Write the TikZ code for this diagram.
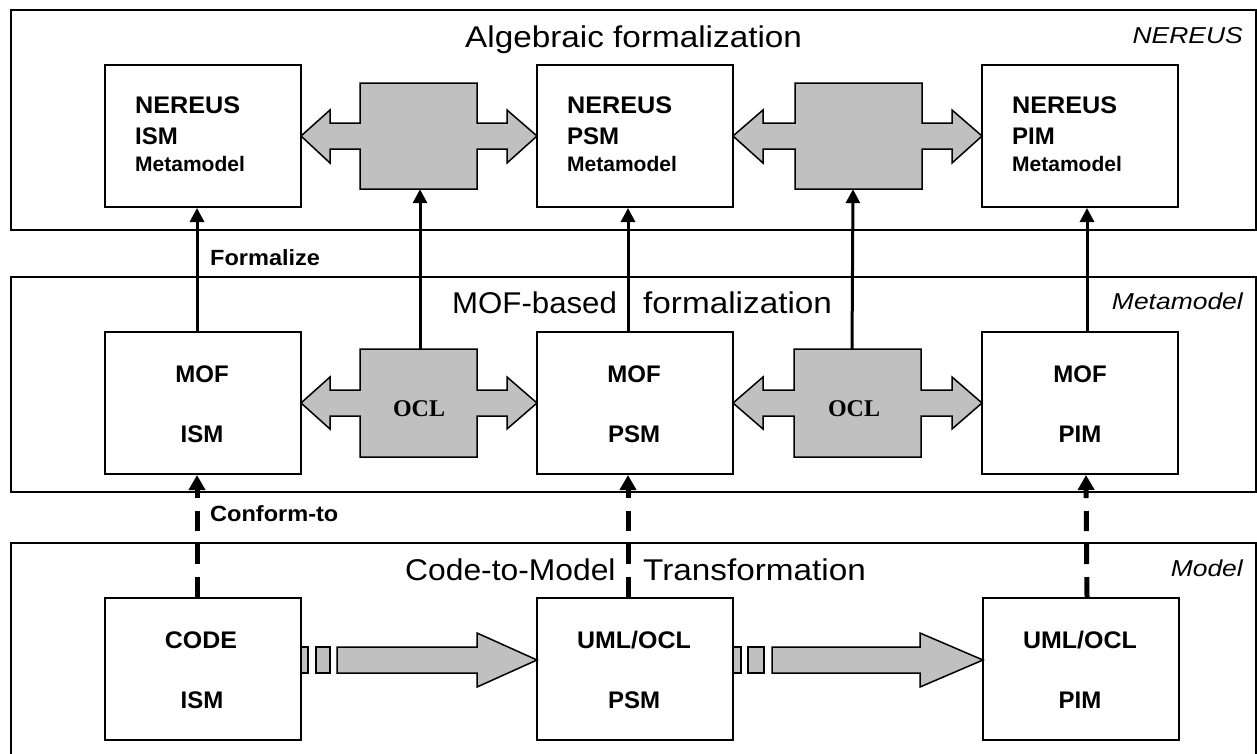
\documentclass[tikz,border=0pt]{standalone}
\usepackage{fontspec}
\setmainfont{Liberation Sans}
\newfontfamily\oclfont{Liberation Serif}
\usetikzlibrary{arrows.meta}
\definecolor{shade}{HTML}{C0C0C0}
\newcommand\ttlf{\fontsize{30}{34}\selectfont}
\newcommand\itlf{\fontsize{23}{26}\selectfont\itshape}
\newcommand\bxf{\fontsize{24}{28}\selectfont\bfseries}
\newcommand\mmf{\fontsize{21}{24}\selectfont\bfseries}
\newcommand\lblf{\fontsize{22}{26}\selectfont\bfseries}
\tikzset{
  layer/.style={draw, line width=2pt, minimum width=1245pt, inner sep=0pt},
  mbox/.style={draw, line width=2pt, fill=white, minimum width=196pt, minimum height=142pt, inner sep=0pt},
  area/.style={inner sep=0pt},
  txt/.style={inner sep=0pt, anchor=base west},
  ctxt/.style={inner sep=0pt, anchor=base},
  rtxt/.style={inner sep=0pt, anchor=base east},
  up/.style={line width=3pt, -{Triangle[width=14pt,length=14pt]}},
  conf/.style={line width=5pt, dash pattern=on 20pt off 13pt, -{Triangle[width=16pt,length=15pt]}},
  gshape/.style={fill=shade, draw, line width=1.5pt, line join=miter},
}
\begin{document}
\begin{tikzpicture}[x=1pt,y=-1pt]
\clip (0,0) rectangle (1257,753);
\fill[white] (0,0) rectangle (1257,753);
% layers
\node[layer, minimum height=220pt] (nereus) at (633.5,120) {};
\node[layer, minimum height=215pt] (meta) at (633.5,384.5) {};
\node[layer, minimum height=230pt] (model) at (633.5,658) {};
% boxes
\node[mbox] (nerISM) at (203,136) {};
\node[mbox] (nerPSM) at (635,136) {};
\node[mbox] (nerPIM) at (1080,136) {};
\node[mbox] (mofISM) at (203,403) {};
\node[mbox] (mofPSM) at (635,403) {};
\node[mbox] (mofPIM) at (1080,403) {};
\node[mbox] (codeISM) at (203,669) {};
\node[mbox] (umlPSM) at (635,669) {};
\node[mbox] (umlPIM) at (1081,669) {};
% grey double arrows (top)
\draw[gshape] (301,136) -- (330,110) -- (330,123) -- (360,123) -- (360,83) -- (477,83) -- (477,123) -- (507,123) -- (507,110) -- (537,136) -- (507,163) -- (507,149) -- (477,149) -- (477,189) -- (360,189) -- (360,149) -- (330,149) -- (330,163) -- cycle;
\draw[gshape] (733,136) -- (763,110) -- (763,123) -- (795,123) -- (795,83) -- (922,83) -- (922,123) -- (952,123) -- (952,110) -- (982,136) -- (952,163) -- (952,149) -- (922,149) -- (922,189) -- (795,189) -- (795,149) -- (763,149) -- (763,163) -- cycle;
% grey double arrows (middle)
\draw[gshape] (301,403) -- (330,377) -- (330,390) -- (360,390) -- (360,349) -- (477,349) -- (477,390) -- (507,390) -- (507,377) -- (537,403) -- (507,429) -- (507,416) -- (477,416) -- (477,457) -- (360,457) -- (360,416) -- (330,416) -- (330,429) -- cycle;
\draw[gshape] (733,403) -- (763,377) -- (763,390) -- (794,390) -- (794,349) -- (921,349) -- (921,390) -- (952,390) -- (952,377) -- (982,403) -- (952,429) -- (952,416) -- (921,416) -- (921,457) -- (794,457) -- (794,416) -- (763,416) -- (763,429) -- cycle;
\node[area, minimum width=117pt, minimum height=106pt] (g1) at (418.5,136) {};
\node[area, minimum width=127pt, minimum height=106pt] (g2) at (858.5,136) {};
\node[area, minimum width=117pt, minimum height=108pt] (ocl1) at (418.5,403) {};
\node[area, minimum width=127pt, minimum height=108pt] (ocl2) at (857.5,403) {};
% bottom transformation arrows
\draw[gshape] (301,647) rectangle (308,673);
\draw[gshape] (316,647) rectangle (330,673);
\draw[gshape] (337,647) -- (477,647) -- (477,633) -- (537,660) -- (477,687) -- (477,673) -- (337,673) -- cycle;
\draw[gshape] (733,647) rectangle (741,673);
\draw[gshape] (748,647) rectangle (764,673);
\draw[gshape] (772,647) -- (920,647) -- (920,633) -- (983,660) -- (920,687) -- (920,673) -- (772,673) -- cycle;
% vertical arrows
\draw[up] ([xshift=-6pt]mofISM.north) -- ([xshift=-6pt]nerISM.south);
\draw[up] ([xshift=1.5pt]ocl1.north) -- ([xshift=1.5pt]g1.south);
\draw[up] ([xshift=-7pt]mofPSM.north) -- ([xshift=-7pt]nerPSM.south);
\draw[up] ([xshift=-5.5pt]ocl2.north) -- ([xshift=-5.5pt]g2.south);
\draw[up] ([xshift=7pt]mofPIM.north) -- ([xshift=7pt]nerPIM.south);
\draw[conf] ([xshift=-6pt]codeISM.north) -- ([xshift=-6pt]mofISM.south);
\draw[conf] ([xshift=-7pt]umlPSM.north) -- ([xshift=-7pt]mofPSM.south);
\draw[conf] ([xshift=6pt]umlPIM.north) -- ([xshift=6pt]mofPIM.south);
% titles
\node[txt] (tAlg) at (465,47) {\ttlf\scalebox{1.11}[1]{Algebraic formalization}};
\node[txt] (tMof) at (452,313) {\ttlf\scalebox{1.04}[1]{MOF-based}};
\node[txt] (tMof2) at (643,313) {\ttlf\scalebox{1.11}[1]{formalization}};
\node[txt] (tCode) at (405,580) {\ttlf\scalebox{1.06}[1]{Code-to-Model}};
\node[txt] (tTr) at (643,580) {\ttlf\scalebox{1.11}[1]{Transformation}};
\node[rtxt] (lNer) at (1243,43) {\itlf\scalebox{1.15}[1]{NEREUS}};
\node[rtxt] (lMeta) at (1243,309) {\itlf\scalebox{1.15}[1]{Metamodel}};
\node[rtxt] (lMod) at (1243,576) {\itlf\scalebox{1.15}[1]{Model}};
% connector labels
\node[txt] (lForm) at (210,265) {\lblf\scalebox{1.07}[1]{Formalize}};
\node[txt] (lConf) at (210,521) {\lblf\scalebox{1.07}[1]{Conform-to}};
% NEREUS box texts
\node[txt] (n1a) at (135,113) {\bxf\scalebox{1.05}[1]{NEREUS}};
\node[txt] (n1b) at (135,144) {\bxf ISM};
\node[txt] (n1c) at (135,171) {\mmf Metamodel};
\node[txt] (n2a) at (567,113) {\bxf\scalebox{1.05}[1]{NEREUS}};
\node[txt] (n2b) at (567,144) {\bxf PSM};
\node[txt] (n2c) at (567,171) {\mmf Metamodel};
\node[txt] (n3a) at (1012,113) {\bxf\scalebox{1.05}[1]{NEREUS}};
\node[txt] (n3b) at (1012,144) {\bxf PIM};
\node[txt] (n3c) at (1012,171) {\mmf Metamodel};
% OCL
\node[ctxt] (o1) at (419,416) {\fontsize{24}{28}\selectfont\oclfont\bfseries OCL};
\node[ctxt] (o2) at (854,416) {\fontsize{24}{28}\selectfont\oclfont\bfseries OCL};
% MOF box texts
\node[ctxt] (m1a) at (202,382) {\bxf MOF};
\node[ctxt] (m1b) at (202,442) {\bxf ISM};
\node[ctxt] (m2a) at (634,382) {\bxf MOF};
\node[ctxt] (m2b) at (634,442) {\bxf PSM};
\node[ctxt] (m3a) at (1080,382) {\bxf MOF};
\node[ctxt] (m3b) at (1080,442) {\bxf PIM};
% bottom box texts
\node[ctxt] (c1a) at (201,648) {\bxf\scalebox{1.04}[1]{CODE}};
\node[ctxt] (c1b) at (202,708) {\bxf ISM};
\node[ctxt] (c2a) at (634,648) {\bxf\scalebox{1.04}[1]{UML/OCL}};
\node[ctxt] (c2b) at (634,708) {\bxf PSM};
\node[ctxt] (c3a) at (1080,648) {\bxf\scalebox{1.04}[1]{UML/OCL}};
\node[ctxt] (c3b) at (1080,708) {\bxf PIM};
\end{tikzpicture}
\end{document}
